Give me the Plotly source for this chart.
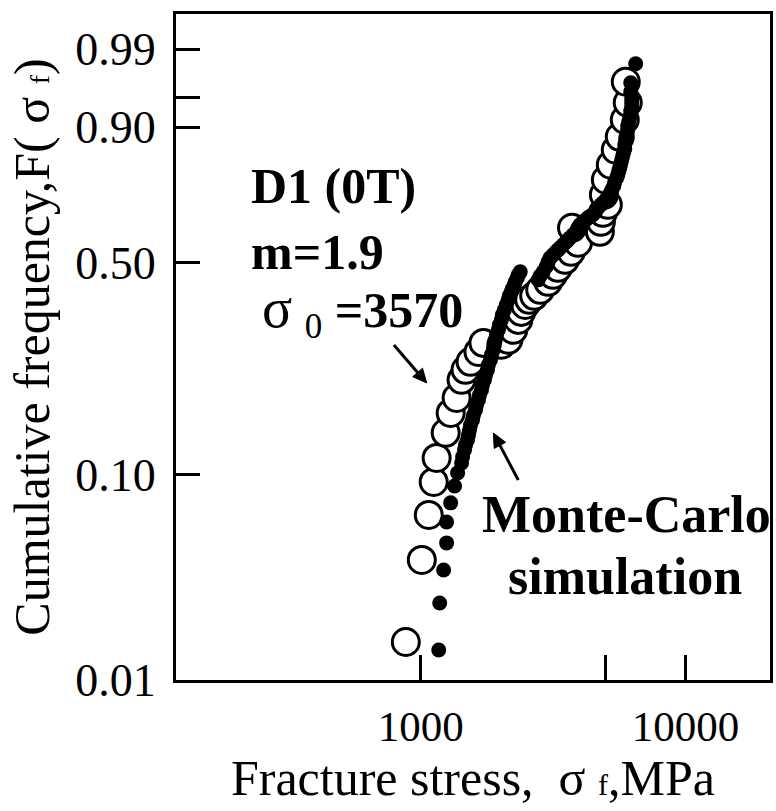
import numpy as np
import plotly.graph_objects as go

# Experimental data (open circles): fracture stress [MPa], Weibull coordinate ln(ln(1/(1-F)))
exp_stress = [878, 1009, 1072, 1119, 1148, 1242, 1297, 1366, 1426, 1476, 1542, 1652, 1725,
              2016, 2142, 2237, 2336, 2397, 2482, 2569, 2683, 2827, 3029, 3162, 3302, 3509,
              3697, 3926, 3728, 4750, 4792, 4876, 5091, 4918, 5004, 5224, 5455, 5648, 5899,
              6053, 5950]
exp_weibull = [-3.732, -3.004, -2.605, -2.312, -2.099, -1.877, -1.700, -1.567, -1.407, -1.318,
               -1.247, -1.159, -1.079, -1.096, -1.052, -0.963, -0.875, -0.804, -0.742, -0.697,
               -0.662, -0.608, -0.537, -0.475, -0.413, -0.342, -0.271, -0.191, -0.058, -0.094,
               -0.005, 0.075, 0.146, 0.234, 0.368, 0.501, 0.634, 0.749, 0.900, 1.051, 1.237]

# Monte-Carlo simulation (filled dots)
sim_stress = [1169, 1179, 1220, 1252, 1252, 1297, 1342, 1378, 1426, 1439, 1463, 1476, 1502,
              1515, 1528, 1542, 1569, 1582, 1610, 1624, 1652, 1667, 1696, 1711, 1740, 1756,
              1786, 1801, 1833, 1849, 1881, 1897, 1914, 1931, 1964, 1982, 2016, 2034, 2070,
              2105, 2142, 2161, 2198, 2218, 2256, 2276, 2316, 2336, 2376,
              2778, 2827, 2901, 2977, 3029, 3082, 3162, 3246, 3302, 3360, 3448, 3539, 3601,
              3664, 3760, 3859, 3926, 3995, 4100, 4209, 4281, 4394, 4471, 4588, 4669, 4792,
              4876, 5004, 5091, 5180, 5270, 5362, 5409, 5503, 5552, 5600, 5648, 5697, 5747,
              5798, 5848, 5899, 5899, 5950, 5950, 6001, 6053, 6053, 6106, 6159, 6213, 6213,
              6266, 6266, 6266, 6266, 6213, 6213, 6486]
sim_weibull = [-3.803, -3.386, -3.093, -2.853, -2.667, -2.498, -2.348, -2.232, -2.144, -2.090,
               -2.028, -1.984, -1.939, -1.895, -1.851, -1.806, -1.762, -1.718, -1.673, -1.629,
               -1.585, -1.540, -1.496, -1.451, -1.407, -1.363, -1.318, -1.274, -1.230, -1.185,
               -1.141, -1.096, -1.052, -1.008, -0.963, -0.919, -0.875, -0.830, -0.786, -0.742,
               -0.697, -0.662, -0.626, -0.600, -0.564, -0.537, -0.502, -0.475, -0.449,
               -0.520, -0.484, -0.449, -0.404, -0.360, -0.325, -0.298, -0.271, -0.254, -0.236,
               -0.209, -0.183, -0.165, -0.147, -0.120, -0.094, -0.058, -0.032, -0.005, 0.013,
               0.030, 0.048, 0.057, 0.092, 0.119, 0.146, 0.163, 0.190, 0.208, 0.243, 0.279,
               0.314, 0.350, 0.385, 0.412, 0.447, 0.474, 0.510, 0.545, 0.581, 0.616, 0.643,
               0.678, 0.714, 0.740, 0.776, 0.811, 0.847, 0.882, 0.918, 0.944, 0.980, 1.006,
               1.042, 1.077, 1.113, 1.148, 1.228, 1.397]

# Axis ticks (labelled)
x_tickvals = [1000, 10000]
x_ticktext = ["1000", "10000"]
x_minor_ticks = [5000]
y_tick_F = [0.99, 0.90, 0.50, 0.10]
y_tick_text = ["0.99", "0.90", "0.50", "0.10"]
y_minor_F = [0.95]
y_bottom = -4.069
y_top = 1.838
y_bottom_label = "0.01"

y_tickvals = [float(np.log(-np.log(1 - f))) for f in y_tick_F] + [y_bottom]
y_ticktext = y_tick_text + [y_bottom_label]
y_minorvals = [float(np.log(-np.log(1 - f))) for f in y_minor_F]

x_title = "Fracture stress,  σ <span style='font-size:30px'>f</span>,MPa"
y_title = "Cumulative frequency,F( σ <span style='font-size:28px'>f</span>)"

SERIF = "Liberation Serif, Times New Roman, serif"

# layout geometry
W, H = 776, 811
ML, MR, MT, MB = 176, 3, 14, 131
PW, PH = W - ML - MR, H - MT - MB


def to_paper(px, py):
    return (px - ML) / PW, (H - MB - py) / PH


def arrow_shapes(tail, head, head_len=14, head_half=6.5, width=3):
    tx, ty = tail
    hx, hy = head
    dx, dy = hx - tx, hy - ty
    L = (dx * dx + dy * dy) ** 0.5
    ux, uy = dx / L, dy / L
    bx, by = hx - head_len * ux, hy - head_len * uy
    px_, py_ = -uy * head_half, ux * head_half
    p0 = to_paper(tx, ty)
    p1 = to_paper(bx, by)
    a = to_paper(hx, hy)
    b = to_paper(bx + px_, by + py_)
    c = to_paper(bx - px_, by - py_)
    line = dict(type="line", xref="paper", yref="paper",
                x0=p0[0], y0=p0[1], x1=p1[0], y1=p1[1],
                line=dict(color="black", width=width))
    tri = dict(type="path", xref="paper", yref="paper",
               path=f"M {a[0]} {a[1]} L {b[0]} {b[1]} L {c[0]} {c[1]} Z",
               fillcolor="black", line=dict(color="black", width=1))
    return [line, tri]


fig = go.Figure()
fig.add_trace(go.Scatter(
    x=exp_stress, y=exp_weibull, mode="markers",
    marker=dict(symbol="circle", size=27, color="white",
                line=dict(color="black", width=3)),
    showlegend=False, cliponaxis=False))
fig.add_trace(go.Scatter(
    x=sim_stress, y=sim_weibull, mode="markers",
    marker=dict(symbol="circle", size=15, color="black", line=dict(width=0)),
    showlegend=False, cliponaxis=False))

fig.update_xaxes(
    type="log", range=[2.0752, 4.3195],
    tickmode="array", tickvals=x_tickvals, ticktext=x_ticktext,
    ticks="inside", ticklen=25, tickwidth=2.5, tickcolor="black",
    minor=dict(tickmode="array", tickvals=x_minor_ticks, ticks="inside",
               ticklen=25, tickwidth=2.5, tickcolor="black", showgrid=False),
    showline=True, linewidth=3, linecolor="black", mirror=True,
    showgrid=False, zeroline=False,
    tickfont=dict(family=SERIF, size=43, color="black"),
    ticklabelstandoff=6,
    title=dict(text=x_title, standoff=0,
               font=dict(family=SERIF, size=50, color="black")))
fig.update_yaxes(
    range=[y_bottom, y_top],
    tickmode="array", tickvals=y_tickvals, ticktext=y_ticktext,
    ticks="inside", ticklen=24, tickwidth=2.5, tickcolor="black",
    minor=dict(tickmode="array", tickvals=y_minorvals, ticks="inside",
               ticklen=24, tickwidth=2.5, tickcolor="black", showgrid=False),
    showline=True, linewidth=3, linecolor="black", mirror=True,
    showgrid=False, zeroline=False,
    tickfont=dict(family=SERIF, size=46, color="black"),
    ticklabelstandoff=8,
    title=dict(text=y_title, standoff=10,
               font=dict(family=SERIF, size=50, color="black")))

ann = []
ann.append(dict(xref="paper", yref="paper", x=0.1223, y=0.7417, text="<b>D1 (0T)</b>",
                showarrow=False, xanchor="left", yanchor="middle",
                font=dict(family=SERIF, size=50, color="black")))
ann.append(dict(xref="paper", yref="paper", x=0.1223, y=0.6426, text="<b>m=1.9</b>",
                showarrow=False, xanchor="left", yanchor="middle",
                font=dict(family=SERIF, size=50, color="black")))
ann.append(dict(xref="paper", yref="paper", x=0.1407, y=0.5526,
                text="<span style='font-size:56px'>σ</span> <sub>0</sub> <b>=3570</b>",
                showarrow=False, xanchor="left", yanchor="middle",
                font=dict(family=SERIF, size=50, color="black")))
ann.append(dict(xref="paper", yref="paper", x=0.7588, y=0.2492, text="<b>Monte-Carlo</b>",
                showarrow=False, xanchor="center", yanchor="middle",
                font=dict(family=SERIF, size=52, color="black")))
ann.append(dict(xref="paper", yref="paper", x=0.7554, y=0.1547, text="<b>simulation</b>",
                showarrow=False, xanchor="center", yanchor="middle",
                font=dict(family=SERIF, size=52, color="black")))

shapes = arrow_shapes((395, 345), (428, 383)) + arrow_shapes((520, 480), (495, 433))

fig.update_layout(
    width=W, height=H,
    margin=dict(l=ML, r=MR, t=MT, b=MB),
    paper_bgcolor="white", plot_bgcolor="white",
    annotations=ann, shapes=shapes, showlegend=False)

fig.write_html("out.html")
